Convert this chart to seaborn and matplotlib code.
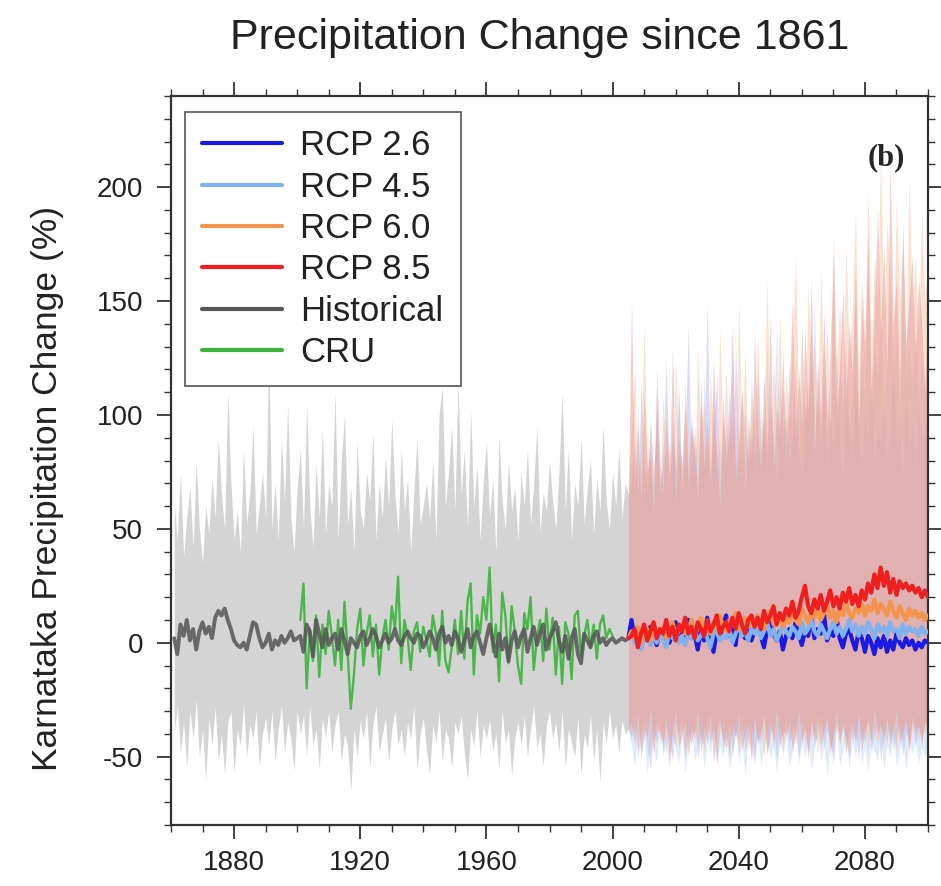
import numpy as np
import pandas as pd
import matplotlib
matplotlib.use("Agg")
import matplotlib.pyplot as plt
from matplotlib.ticker import MultipleLocator
from matplotlib.lines import Line2D
import seaborn as sns

# ---------------- data ----------------
hist_years = list(range(1861, 2006))
rcp_years = list(range(2006, 2101))
cru_years = list(range(1901, 2001))

hist_mean = [
    2, -5, 8, 3, 10, 1, 6, -3, 5, 9,
    4, 7, 2, 11, 14, 12, 15, 10, 6, 1,
    -1, -2, 0, -3, 3, 9, 8, 2, -2, 0,
    4, -3, 1, -1, 3, 0, 2, 5, 1, 2,
    3, -4, 8, 5, -6, 10, 4, -2, 6, -1,
    2, 4, -3, 6, 1, -5, 2, 0, -2, 3,
    5, -1, 2, 6, 3, -2, 1, 4, 0, 2,
    6, 1, -1, 3, 5, 2, 0, 4, 3, -2,
    1, 5, 2, -3, 4, 7, 0, 3, -1, 5,
    2, -4, 1, 6, -2, 3, 5, 0, -5, 2,
    8, 1, -6, 4, -3, 2, -8, 1, 5, -2,
    3, 6, -4, 2, 7, -1, 4, 8, -3, 2,
    5, 9, 1, -4, 3, -7, 2, 6, -5, -9,
    4, 1, -2, 3, 5, 0, 2, -1, 1, 2,
    0, 1, 2, 1, 2]

hist_upper = [
    62, 45, 75, 38, 55, 68, 42, 80, 50, 35,
    60, 48, 72, 55, 90, 65, 50, 110, 70, 45,
    58, 40, 85, 52, 66, 95, 48, 60, 75, 55,
    128, 50, 70, 45, 90, 62, 105, 55, 40, 68,
    85, 50, 105, 60, 42, 78, 55, 95, 48, 70,
    60, 110, 45, 80, 100, 52, 68, 40, 88, 58,
    50, 75, 62, 92, 45, 70, 55, 82, 60, 98,
    65, 48, 85, 58, 72, 40, 66, 90, 52, 60,
    70, 55, 80, 45, 100, 112, 60, 75, 95, 58,
    115, 65, 85, 50, 102, 60, 78, 45, 70, 88,
    55, 72, 40, 90, 62, 50, 80, 58, 68, 45,
    75, 60, 85, 52, 70, 95, 48, 66, 58, 80,
    62, 50, 75, 110, 58, 85, 45, 70, 60, 90,
    52, 68, 80, 48, 72, 58, 95, 62, 50, 75,
    60, 85, 55, 70, 65]

hist_lower = [
    -40, -28, -48, -35, -55, -30, -42, -25, -50, -38,
    -60, -33, -45, -28, -52, -40, -58, -35, -30, -57,
    -38, -45, -27, -50, -36, -42, -30, -55, -40, -33,
    -45, -30, -52, -38, -28, -48, -35, -42, -56, -30,
    -40, -32, -50, -28, -45, -38, -55, -33, -42, -30,
    -48, -36, -30, -52, -40, -45, -65, -38, -50, -34,
    -42, -30, -55, -36, -28, -48, -40, -33, -52, -38,
    -30, -45, -38, -50, -35, -42, -28, -56, -40, -33,
    -47, -58, -36, -44, -30, -52, -38, -42, -55, -35,
    -40, -32, -48, -60, -38, -45, -30, -50, -36, -42,
    -34, -48, -40, -55, -30, -44, -38, -58, -42, -35,
    -45, -32, -50, -38, -28, -46, -40, -54, -36, -30,
    -42, -35, -48, -30, -55, -38, -44, -50, -33, -58,
    -40, -46, -32, -52, -38, -61, -35, -44, -30, -42,
    -36, -48, -34, -40, -38]

cru = [
    10, 26, -20, 6, -8, 12, -15, 8, -5, 14,
    3, -10, 10, -12, 18, -4, -29, -14, 6, 15,
    -10, 4, 12, -6, 8, -14, 2, 10, -3, 16,
    6, 29, -9, 10, 3, -12, 5, 9, -4, 7,
    1, -6, 12, 4, -10, 14, -8, -13, -2, 10,
    -5, 14, -7, 18, 26, -14, 12, 4, 20, 10,
    33, -4, 8, -17, 22, 12, -9, 16, 5, -10,
    -18, 13, 6, 20, -12, 2, 10, -8, 15, -3,
    11, -14, 7, -18, 9, 4, -16, 12, 14, -6,
    3, 10, -2, 8, -7, 8, 12, 2, 6, 3]

rcp26_mean = [
    10, 2, 6, -2, 4, 1, 7, 3, -1, 5,
    2, 8, 0, 4, 9, 1, 5, 3, 10, 2,
    4, -3, 6, 1, 11, 3, -4, 5, 2, 8,
    12, 3, 6, -1, 10, 4, 2, 7, 1, 5,
    8, 3, -2, 6, 11, 4, 1, 5, -3, 3,
    6, 2, 9, 4, -1, 5, 3, 12, 2, 6,
    4, 13, 1, 5, 3, 11, 2, -2, 4, 6,
    1, -3, 5, 2, -4, 3, 0, -5, 2, -2,
    3, -4, 1, -3, 4, 0, -2, 2, -1, 1,
    -3, 0, -2, 1, 0]

rcp45_mean = [
    4, 0, 3, -3, 2, 5, -1, 3, 0, 4,
    1, -2, 5, 2, 6, 0, 3, -1, 4, 2,
    6, 1, 3, 7, 2, -2, 4, 5, 1, 3,
    2, 6, 0, 4, 8, 3, 5, 1, 6, 4,
    7, 2, 5, 9, 3, 6, 1, 4, 8, 5,
    3, 7, 5, 2, 9, 4, 6, 10, 5, 3,
    8, 5, 2, 6, 9, 4, 7, 3, 6, 10,
    5, 8, 3, 7, 4, 9, 6, 2, 8, 5,
    7, 3, 9, 5, 6, 2, 8, 4, 7, 5,
    6, 3, 7, 4, 5]

rcp60_mean = [
    5, 2, 7, 0, 4, 6, 1, 8, 3, 5,
    7, 2, 6, 9, 3, 5, 8, 4, 6, 10,
    3, 7, 11, 5, 8, 4, 9, 6, 12, 7,
    5, 10, 8, 13, 6, 9, 11, 7, 10, 8,
    12, 9, 6, 11, 14, 8, 10, 13, 7, 11,
    9, 14, 10, 8, 15, 12, 9, 13, 11, 16,
    10, 13, 17, 11, 14, 9, 15, 12, 18, 13,
    11, 15, 13, 17, 12, 16, 14, 19, 13, 17,
    15, 12, 18, 14, 11, 16, 13, 10, 15, 12,
    14, 11, 13, 10, 12]

rcp85_mean = [
    3, 6, -2, 4, 8, 1, 5, 9, 2, 6,
    4, 10, 3, 7, 1, 8, 5, 11, 4, 7,
    2, 9, 6, 3, 10, 5, 8, 12, 4, 7,
    9, 5, 11, 6, 13, 8, 4, 10, 12, 7,
    11, 6, 14, 9, 12, 16, 8, 13, 10, 15,
    12, 18, 11, 14, 20, 25, 16, 13, 19, 15,
    21, 14, 18, 23, 16, 20, 15, 22, 18, 24,
    17, 21, 16, 23, 19, 26, 22, 30, 24, 33,
    25, 31, 22, 28, 21, 27, 24, 26, 23, 25,
    22, 24, 20, 23, 20]

rcp26_upper = [
    70, 90, 60, 115, 78, 65, 95, 72, 100, 68,
    82, 125, 70, 92, 75, 110, 66, 88, 140, 72,
    95, 68, 105, 80, 150, 74, 92, 118, 70, 98,
    85, 112, 76, 130, 90, 72, 102, 80, 95, 70,
    120, 82, 96, 74, 108, 88, 70, 115, 84, 100,
    78, 92, 125, 86, 72, 104, 96, 140, 80, 110,
    90, 115, 76, 98, 84, 130, 88, 72, 105, 95,
    82, 120, 90, 76, 100, 86, 112, 78, 95, 88,
    105, 80, 96, 125, 84, 92, 74, 110, 86, 98,
    78, 102, 88, 95, 82]
rcp26_lower = [
    -42, -36, -50, -40, -33, -47, -55, -38, -44, -31,
    -48, -37, -43, -52, -35, -41, -30, -49, -39, -45,
    -34, -51, -40, -46, -32, -44, -38, -53, -36, -42,
    -47, -33, -50, -39, -44, -31, -48, -40, -36, -54,
    -38, -45, -32, -49, -41, -35, -52, -37, -43, -30,
    -46, -39, -34, -50, -42, -36, -48, -33, -45, -40,
    -31, -47, -38, -44, -53, -35, -41, -37, -49, -34,
    -43, -39, -51, -36, -45, -32, -48, -40, -35, -52,
    -38, -44, -33, -47, -41, -36, -50, -39, -43, -34,
    -46, -37, -42, -35, -40]

rcp45_upper = [
    80, 62, 105, 70, 58, 92, 75, 68, 110, 65,
    88, 72, 60, 98, 76, 115, 64, 85, 70, 102,
    78, 95, 66, 120, 82, 70, 108, 74, 90, 62,
    100, 76, 128, 84, 68, 110, 92, 75, 118, 86,
    72, 105, 88, 130, 78, 96, 140, 82, 112, 90,
    125, 85, 102, 76, 138, 94, 115, 88, 150, 98,
    82, 130, 105, 95, 145, 88, 120, 100, 135, 92,
    110, 150, 96, 125, 105, 160, 98, 132, 115, 145,
    100, 128, 155, 108, 138, 95, 150, 118, 130, 110,
    140, 105, 125, 115, 98]
rcp45_lower = [
    -45, -55, -38, -50, -42, -58, -40, -48, -52, -36,
    -50, -43, -56, -39, -47, -53, -41, -57, -44, -38,
    -52, -46, -40, -55, -43, -49, -37, -54, -45, -50,
    -41, -56, -47, -39, -53, -44, -58, -42, -48, -51,
    -40, -54, -46, -38, -52, -45, -57, -43, -49, -41,
    -55, -47, -39, -53, -44, -50, -42, -56, -46, -40,
    -52, -45, -58, -43, -49, -38, -54, -47, -41, -55,
    -44, -50, -40, -53, -46, -57, -42, -48, -52, -39,
    -55, -45, -50, -41, -54, -47, -43, -56, -44, -49,
    -42, -53, -46, -50, -44]

rcp60_upper = [
    95, 120, 65, 88, 140, 70, 100, 78, 92, 60,
    110, 75, 90, 68, 125, 85, 72, 115, 80, 98,
    70, 130, 88, 105, 76, 118, 92, 68, 140, 85,
    120, 82, 100, 75, 150, 90, 128, 78, 110, 95,
    135, 88, 102, 160, 80, 125, 98, 145, 90, 118,
    96, 130, 170, 105, 140, 92, 158, 115, 132, 100,
    165, 110, 140, 95, 180, 122, 150, 105, 175, 128,
    145, 190, 115, 160, 135, 200, 125, 170, 150, 215,
    140, 185, 160, 130, 195, 150, 175, 125, 205, 145,
    170, 135, 190, 150, 165]
rcp60_lower = [
    -40, -32, -47, -36, -43, -30, -50, -38, -34, -45,
    -37, -49, -33, -41, -46, -35, -39, -52, -31, -44,
    -38, -45, -30, -48, -36, -42, -34, -50, -40, -33,
    -46, -37, -43, -31, -49, -39, -35, -47, -41, -32,
    -44, -36, -50, -38, -33, -46, -40, -31, -48, -37,
    -42, -34, -45, -39, -30, -47, -36, -43, -38, -49,
    -35, -41, -32, -46, -40, -37, -44, -33, -48, -39,
    -36, -45, -31, -42, -38, -47, -34, -40, -44, -35,
    -46, -33, -41, -37, -48, -36, -42, -31, -45, -39,
    -34, -43, -38, -40, -36]

rcp85_upper = [
    150, 70, 95, 60, 110, 75, 85, 55, 120, 80,
    65, 100, 72, 130, 60, 90, 78, 105, 68, 95,
    85, 62, 115, 75, 98, 70, 125, 82, 60, 108,
    78, 95, 140, 70, 88, 112, 66, 100, 80, 135,
    92, 75, 118, 85, 145, 72, 105, 90, 128, 80,
    110, 150, 88, 120, 95, 138, 102, 160, 85, 125,
    100, 145, 92, 130, 170, 98, 122, 155, 108, 140,
    118, 165, 96, 150, 128, 180, 112, 145, 190, 135,
    175, 120, 210, 140, 160, 115, 185, 130, 150, 170,
    125, 160, 140, 110, 150]
rcp85_lower = [
    -35, -45, -30, -50, -38, -42, -28, -48, -36, -40,
    -44, -32, -52, -38, -30, -46, -40, -34, -50, -37,
    -42, -29, -48, -36, -44, -31, -53, -39, -33, -46,
    -38, -50, -35, -42, -30, -47, -40, -36, -52, -33,
    -45, -39, -31, -49, -36, -43, -28, -46, -38, -41,
    -34, -48, -40, -30, -44, -37, -51, -35, -42, -32,
    -46, -38, -33, -49, -40, -30, -45, -36, -42, -50,
    -35, -43, -31, -47, -38, -34, -44, -29, -40, -36,
    -42, -33, -46, -37, -30, -44, -39, -35, -48, -32,
    -40, -36, -45, -34, -38]

labels = ["RCP 2.6", "RCP 4.5", "RCP 6.0", "RCP 8.5", "Historical", "CRU"]
line_colors = ["#1a1ae6", "#7fb2ee", "#f5944a", "#f01e1e", "#555555", "#3cb43c"]
band_colors = ["#9a9af0", "#a8c8f0", "#f6b48a", "#e89a9a"]

# ---------------- figure ----------------
sns.set_theme(style="ticks")
plt.rcParams["font.family"] = ["Liberation Sans", "DejaVu Sans"]
plt.rcParams["axes.unicode_minus"] = False

fig = plt.figure(figsize=(9.41, 8.86), dpi=100)
ax = fig.add_axes([171 / 941, 1 - 825 / 886, (928 - 171) / 941, (825 - 96) / 886])

hist_df = pd.DataFrame({"year": hist_years, "mean": hist_mean,
                        "upper": hist_upper, "lower": hist_lower})
cru_df = pd.DataFrame({"year": cru_years, "value": cru})

# RCP series are joined to the last historical year so there is no gap
join_years = [hist_years[-1]] + rcp_years
rcp_df = pd.DataFrame({"year": join_years,
                       "m26": [hist_mean[-1]] + rcp26_mean, "m45": [hist_mean[-1]] + rcp45_mean,
                       "m60": [hist_mean[-1]] + rcp60_mean, "m85": [hist_mean[-1]] + rcp85_mean,
                       "u26": [hist_upper[-1]] + rcp26_upper, "u45": [hist_upper[-1]] + rcp45_upper,
                       "u60": [hist_upper[-1]] + rcp60_upper, "u85": [hist_upper[-1]] + rcp85_upper,
                       "l26": [hist_lower[-1]] + rcp26_lower, "l45": [hist_lower[-1]] + rcp45_lower,
                       "l60": [hist_lower[-1]] + rcp60_lower, "l85": [hist_lower[-1]] + rcp85_lower})

# historical spread
ax.fill_between(hist_df["year"], hist_df["lower"], hist_df["upper"],
                color="#d4d4d4", lw=0, zorder=1)
# RCP spreads
alphas = [0.35, 0.35, 0.4, 0.5]
for key, col, a in zip(["26", "45", "60", "85"], band_colors, alphas):
    ax.fill_between(rcp_df["year"], rcp_df["l" + key], rcp_df["u" + key],
                    color=col, alpha=a, lw=0, zorder=2)

# CRU and historical means
sns.lineplot(data=cru_df, x="year", y="value", color=line_colors[5], lw=1.7,
             alpha=0.9, ax=ax, zorder=4)
sns.lineplot(data=hist_df, x="year", y="mean", color=line_colors[4], lw=2.8,
             alpha=0.85, ax=ax, zorder=5)
for key, col in zip(["26", "45", "60", "85"], line_colors[:4]):
    sns.lineplot(data=rcp_df, x="year", y="m" + key, color=col, lw=3.0, ax=ax, zorder=6)

ax.set_xlim(1860, 2100)
ax.set_ylim(-80, 240)
ax.xaxis.set_minor_locator(MultipleLocator(10))
ax.yaxis.set_major_locator(MultipleLocator(50))
ax.yaxis.set_minor_locator(MultipleLocator(10))
ax.set_xticks([1880, 1920, 1960, 2000, 2040, 2080])
ax.tick_params(which="both", direction="out", top=True, right=True,
               labeltop=False, labelright=False, colors="#333333", labelcolor="#222222")
ax.tick_params(which="major", length=10, width=1.3, labelsize=20)
ax.tick_params(axis="x", which="major", pad=8)
ax.tick_params(axis="y", which="major", pad=10)
ax.tick_params(which="minor", length=5, width=1.0)
for s in ax.spines.values():
    s.set_linewidth(1.6)
    s.set_color("#333333")
ax.set_xlabel("")
ax.set_ylabel("Karnataka Precipitation Change (%)", fontsize=25.5, color="#222222")
ax.yaxis.set_label_coords(-0.142, 0.462)

handles = [Line2D([0], [0], color=c, lw=3.0) for c in line_colors]
leg = ax.legend(handles, labels, loc="upper left", bbox_to_anchor=(0.0185, 0.978),
                borderaxespad=0, fontsize=25, frameon=True, fancybox=False,
                handlelength=2.3, handletextpad=0.52, labelspacing=0.24,
                borderpad=0.5, framealpha=1)
leg.get_frame().set_edgecolor("#555555")
leg.get_frame().set_linewidth(1.2)
for t in leg.get_texts():
    t.set_color("#222222")

ax.text(0.97, 0.915, "(b)", transform=ax.transAxes, ha="right", va="center",
        fontsize=22, fontweight="bold", family=["Liberation Serif", "DejaVu Serif"], zorder=7)

fig.text(540 / 941, 1 - 38 / 886, "Precipitation Change since 1861", ha="center", va="center",
         fontsize=31, color="#222222")

fig.savefig("out.png", dpi=100)
